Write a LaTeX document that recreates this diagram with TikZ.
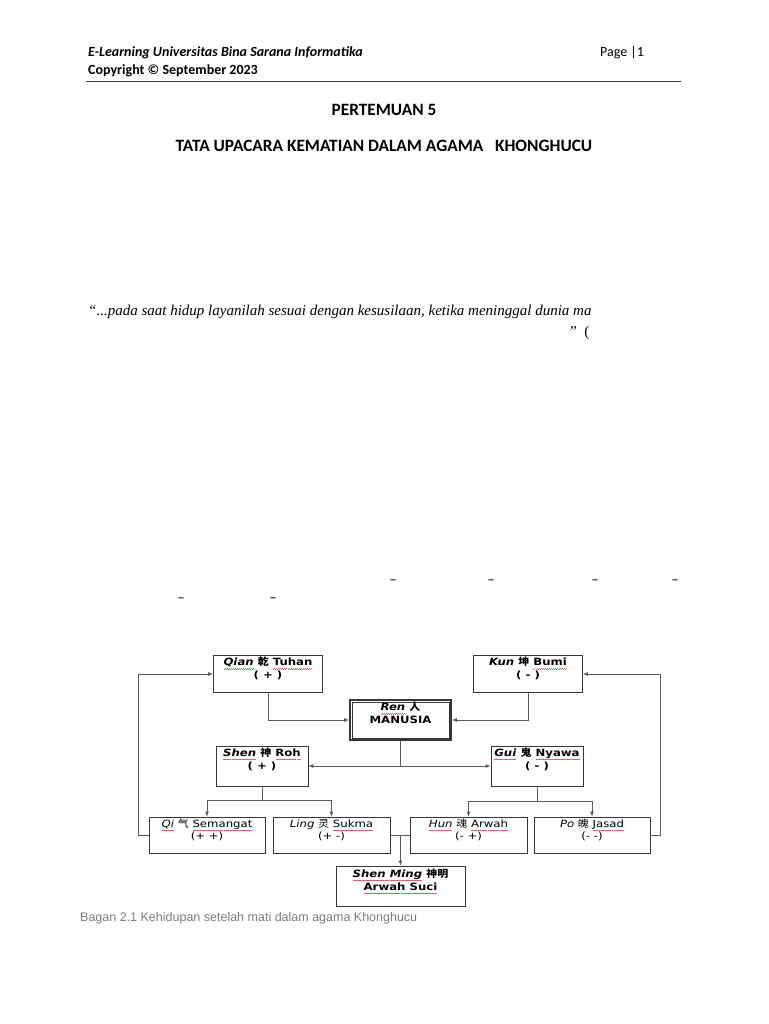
\documentclass[tikz,border=0pt]{standalone}
\usepackage{fontspec}
\setmainfont{Carlito}
\newfontfamily\diagfont[FakeStretch=1.17]{DejaVu Sans}
\newfontfamily\cjk[FakeStretch=1.1]{Noto Sans CJK SC}
\newfontfamily\quotefont{Liberation Serif}
\newfontfamily\capfont{Liberation Sans}
\usetikzlibrary{arrows.meta, positioning, calc}
\definecolor{linecolor}{RGB}{90,90,90}
\definecolor{boxcolor}{RGB}{55,55,55}
\definecolor{captioncolor}{RGB}{125,125,125}
\definecolor{spellred}{RGB}{235,95,95}

% red wavy spell-check mark under a word
\newcommand{\spell}[1]{\setbox0\hbox{#1}\rlap{\textcolor{spellred}{\hbox to\wd0{\xleaders\hbox{\rule[-3.1pt]{1pt}{0.4pt}\rule[-2.6pt]{1pt}{0.4pt}}\hfill}}}\box0\relax}

\tikzset{
  frame/.style={draw=boxcolor, line width=0.8pt, inner sep=0pt},
  boxtext/.style={font=\diagfont\bfseries\fontsize{10}{13}\selectfont, align=center, inner sep=0pt,
    execute at begin node=\rule{0pt}{11pt}},
  lighttext/.style={font=\diagfont\fontsize{10}{12}\selectfont, align=center, inner sep=0pt,
    execute at begin node=\rule{0pt}{11pt}},
  conn/.style={draw=linecolor, line width=0.8pt},
  arr/.style={conn, -{Latex[length=5pt,width=4pt]}},
  dashmark/.style={font=\fontsize{15}{15}\selectfont, inner sep=0pt}
}

\begin{document}
\begin{tikzpicture}[x=1pt, y=-1pt]
    \useasboundingbox (0,0) rectangle (768,1024);

    % Header
    \node[anchor=west, inner sep=0pt, font=\fontsize{14}{16}\selectfont\bfseries\itshape] (head1) at (88,53) {E-Learning Universitas Bina Sarana Informatika};
    \node[anchor=west, inner sep=0pt, font=\fontsize{14}{16}\selectfont\bfseries] (head2) at (88,71) {Copyright © September 2023};
    \node[anchor=west, inner sep=0pt, font=\fontsize{14}{16}\selectfont] (page) at (600,53) {Page |1};
    \draw[line width=1pt, black!80] (86,82) -- (681,82);

    % Title
    \node[font=\fontsize{17.3}{20}\selectfont\bfseries] (title1) at (384,110) {PERTEMUAN 5};
    \node[font=\fontsize{17.3}{20}\selectfont\bfseries] (title2) at (384,146) {TATA UPACARA KEMATIAN DALAM AGAMA \ \ KHONGHUCU};

    % Quote
    \node[anchor=west, inner sep=0pt, font=\quotefont\fontsize{15}{18}\selectfont\itshape] (quote1) at (88,312) {“...pada saat hidup layanilah sesuai dengan kesusilaan, ketika meninggal dunia ma};
    \node[anchor=west, inner sep=0pt, font=\quotefont\fontsize{15}{18}\selectfont] (quote2) at (570,333) {”\ \ (};

    % stray dashes
    \foreach \x/\y [count=\i] in {393/582, 491/582, 595/582, 675/582, 181/600, 273/600}
        \node[dashmark] (dash\i) at (\x,\y) {--};

    % Boxes
    \node[frame, minimum width=109pt, minimum height=37pt] (qian) at (268,674) {};
    \node[frame, minimum width=109pt, minimum height=37pt] (kun) at (528,674) {};
    \node[frame, line width=1.8pt, minimum width=101pt, minimum height=40pt] (ren) at (400.5,720) {};
    \draw[boxcolor, line width=0.6pt] ($(ren.north west)+(3,3)$) rectangle ($(ren.south east)+(-3,-3)$);
    \node[frame, minimum width=92pt, minimum height=40pt] (shen) at (262,766) {};
    \node[frame, minimum width=92pt, minimum height=40pt] (gui) at (537,766) {};
    \node[frame, minimum width=116pt, minimum height=36pt] (qi) at (207,835) {};
    \node[frame, minimum width=117pt, minimum height=36pt] (ling) at (331.5,835) {};
    \node[frame, minimum width=117pt, minimum height=36pt] (hun) at (468.5,835) {};
    \node[frame, minimum width=116pt, minimum height=36pt] (po) at (592,835) {};
    \node[frame, minimum width=129pt, minimum height=40pt] (shenming) at (400.5,886) {};

    % Box texts
    \node[boxtext, below=2pt of qian.north] (qiantext) {\spell{\textit{Qian}} {\cjk\bfseries 乾} \spell{Tuhan}\\( + )};
    \node[boxtext, below=2pt of kun.north] (kuntext) {\textit{Kun} {\cjk\bfseries 坤} \spell{Bumi}\\( - )};
    \node[boxtext, below=3pt of ren.north] (rentext) {\spell{\textit{Ren}} {\cjk\bfseries 人}\\MANUSIA};
    \node[boxtext, below=2pt of shen.north] (shentext) {\spell{\textit{Shen}} {\cjk\bfseries 神} \spell{Roh}\\( + )};
    \node[boxtext, below=2pt of gui.north] (guitext) {\spell{\textit{Gui}} {\cjk\bfseries 鬼} \spell{Nyawa}\\( - )};
    \node[lighttext, below=2.5pt of qi.north] (qitext) {\spell{\textit{Qi}} {\cjk 气} \spell{Semangat}\\(+ +)};
    \node[lighttext, below=2.5pt of ling.north] (lingtext) {\textit{Ling} {\cjk 灵} \spell{Sukma}\\(+ -)};
    \node[lighttext, below=2.5pt of hun.north] (huntext) {\spell{\textit{Hun}} {\cjk 魂} \spell{Arwah}\\(- +)};
    \node[lighttext, below=2.5pt of po.north] (potext) {\textit{Po} {\cjk 魄} \spell{Jasad}\\(- -)};
    \node[boxtext, below=3pt of shenming.north] (shenmingtext) {\spell{\textit{Shen Ming}} {\cjk\bfseries 神明}\\\spell{Arwah Suci}};

    % Connectors
    \draw[arr] (qian.south) |- (ren.west);
    \draw[arr] (kun.south) |- (ren.east);
    \draw[arr] (ren.south) |- (shen.east);
    \draw[arr] (ren.south) |- (gui.west);
    \coordinate (shenfork) at ($(shen.south)+(0,14)$);
    \coordinate (guifork) at ($(gui.south)+(0,15)$);
    \draw[conn] (shen.south) -- (shenfork);
    \draw[arr] (shenfork) -| (qi.north);
    \draw[arr] (shenfork) -| (ling.north);
    \draw[conn] (gui.south) -- (guifork);
    \draw[arr] (guifork) -| (hun.north);
    \draw[arr] (guifork) -| (po.north);
    \draw[conn] (ling.east) -- (hun.west);
    \draw[arr] (ling.east -| shenming.north) -- (shenming.north);
    \draw[arr] (qi.west) -- ++(-10,0) |- (qian.west);
    \draw[arr] (po.east) -- ++(10,0) |- (kun.east);

    % Caption
    \node[anchor=west, inner sep=0pt, text=captioncolor, font=\capfont\fontsize{12.5}{14}\selectfont] (caption) at (80,918) {Bagan 2.1 Kehidupan setelah mati dalam agama Khonghucu};
\end{tikzpicture}
\end{document}
